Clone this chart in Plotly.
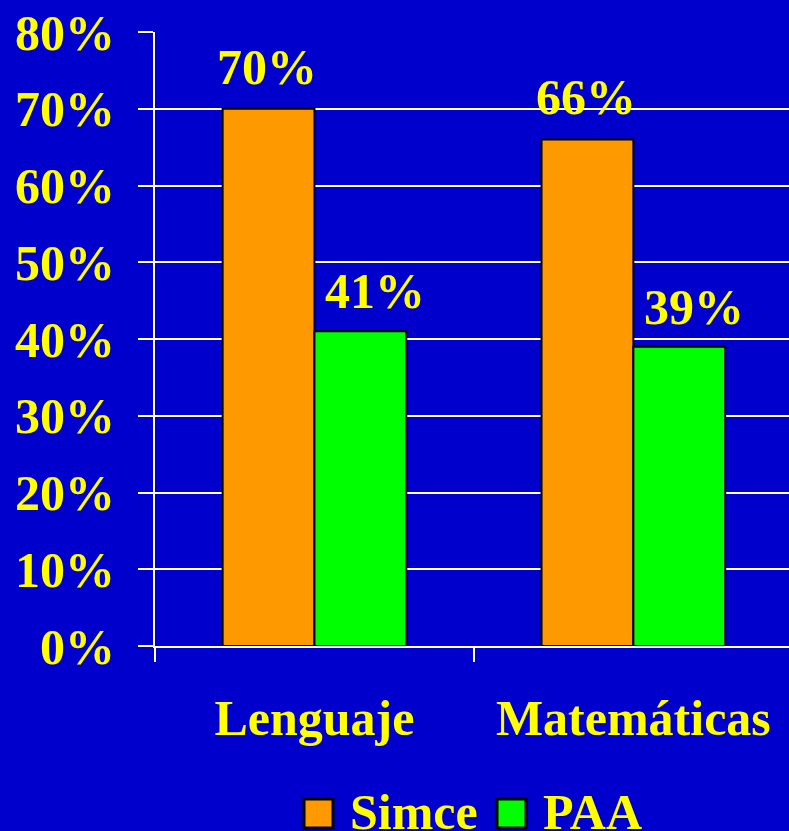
import plotly.graph_objects as go

categories = ["Lenguaje", "Matemáticas"]
simce = [70, 66]
paa = [41, 39]
y_ticks = [0, 10, 20, 30, 40, 50, 60, 70, 80]
y_tick_labels = ["0%", "10%", "20%", "30%", "40%", "50%", "60%", "70%", "80%"]
series_names = ["Simce", "PAA"]

BG = "#0000CC"
YEL = "#FFFF00"
ORANGE = "#FF9900"
GREEN = "#00FF00"
FONT = "Liberation Serif, Times New Roman, serif"

fig = go.Figure()
fig.add_trace(go.Bar(x=categories, y=simce, name=series_names[0],
                     marker=dict(color=ORANGE, line=dict(color="black", width=2))))
fig.add_trace(go.Bar(x=categories, y=paa, name=series_names[1],
                     marker=dict(color=GREEN, line=dict(color="black", width=2))))

annotations = []
for cat, v in zip(categories, simce):
    annotations.append(dict(x=cat, y=v, xref="x", yref="y", text=f"<b>{v}%</b>",
                            showarrow=False, yanchor="bottom", xshift=-47, yshift=12,
                            font=dict(family=FONT, size=50, color=YEL)))
for cat, v in zip(categories, paa):
    annotations.append(dict(x=cat, y=v, xref="x", yref="y", text=f"<b>{v}%</b>",
                            showarrow=False, yanchor="bottom", xshift=61, yshift=10,
                            font=dict(family=FONT, size=50, color=YEL)))

# manual legend
shapes = []
leg_items = [(series_names[0], ORANGE, 304, 348), (series_names[1], GREEN, 497, 541)]
W = 789.0
L = 155.0
pw = W - L
top = 32.0
bot = 646.0
ph = bot - top
def px_to_paper_x(px):
    return (px - L) / pw
def px_to_paper_y(py):
    return (bot - py) / ph
for name, col, sx, tx in leg_items:
    shapes.append(dict(type="rect", xref="paper", yref="paper",
                       x0=px_to_paper_x(sx), x1=px_to_paper_x(sx + 29),
                       y0=px_to_paper_y(828), y1=px_to_paper_y(799),
                       fillcolor=col, line=dict(color="black", width=3)))
    annotations.append(dict(x=px_to_paper_x(tx), y=px_to_paper_y(812), xref="paper", yref="paper",
                            text=f"<b>{name}</b>", showarrow=False, xanchor="left", yanchor="middle",
                            font=dict(family=FONT, size=50, color=YEL)))

fig.update_layout(
    width=789, height=831,
    paper_bgcolor=BG, plot_bgcolor=BG,
    margin=dict(l=155, r=0, t=32, b=185),
    barmode="group", bargap=0.424, bargroupgap=0,
    showlegend=False,
    annotations=annotations, shapes=shapes,
    font=dict(family=FONT, size=50, color=YEL),
)
fig.update_xaxes(
    range=[-0.5, 1.488],
    showline=True, linecolor="white", linewidth=2,
    ticks="outside", tickson="boundaries", ticklen=14, tickwidth=2, tickcolor="white",
    showgrid=False,
    tickfont=dict(family=FONT, size=50, color=YEL),
    tickprefix="<b>", ticksuffix="</b>",
    ticklabelstandoff=27,
)
fig.update_yaxes(
    range=[0, 80],
    tickvals=y_ticks, ticktext=[f"<b>{t}</b>" for t in y_tick_labels],
    showline=True, linecolor="white", linewidth=2,
    ticks="outside", ticklen=15, tickwidth=2, tickcolor="white",
    showgrid=True, gridcolor="white", gridwidth=2,
    zeroline=False,
    tickfont=dict(family=FONT, size=50, color=YEL),
    ticklabelstandoff=13,
)

fig.write_html("out.html", config={"displayModeBar": False},
               post_script="document.body.style.margin='0';document.body.style.padding='0';document.body.style.background='#0000CC';")
